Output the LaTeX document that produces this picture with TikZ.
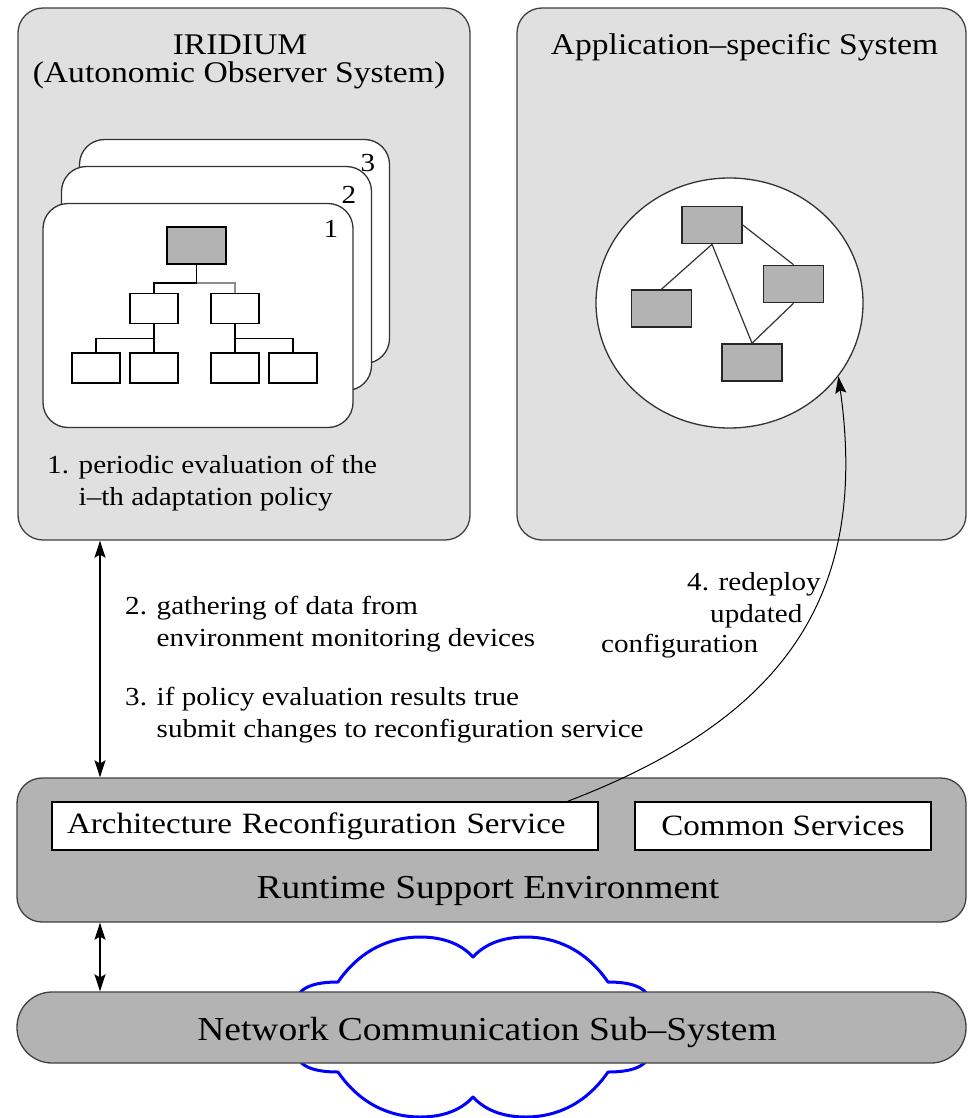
\documentclass[tikz,border=0pt]{standalone}
\usepackage{fontspec}
\setmainfont[FakeStretch=1.12]{Liberation Serif}
\usepackage{xcolor}
\usepackage{tikz}
\usetikzlibrary{shapes,arrows}
\usetikzlibrary{arrows.meta}
\definecolor{panelgray}{HTML}{E0E0E0}
\definecolor{layergray}{HTML}{B3B3B3}

\begin{document}
\begin{tikzpicture}[x=1pt, y=-1pt]
\tikzstyle{sysborder}=[line width=1.3pt, draw=black!75]
\tikzstyle{syspanel}=[sysborder, fill=panelgray, rounded corners=25pt]
\tikzstyle{layer}=[sysborder, fill=layergray, rounded corners=25pt]
\tikzstyle{policycard}=[line width=1.3pt, draw=black!80, fill=white, rounded corners=25pt, minimum width=310pt, minimum height=224pt]
\tikzstyle{leaf}=[line width=1.6pt, draw=black, fill=white, minimum width=48pt, minimum height=30pt, inner sep=0]
\tikzstyle{comp}=[line width=1.6pt, draw=black!85, fill=layergray, minimum width=60pt, minimum height=37pt, inner sep=0]
\tikzstyle{service}=[line width=1.6pt, draw=black, fill=white, minimum height=48pt, inner sep=0, font=\fontsize{29.5}{35}\selectfont]
\tikzstyle{title}=[anchor=base, inner sep=0, font=\fontsize{30}{36}\selectfont]
\tikzstyle{layername}=[anchor=base, inner sep=0, font=\fontsize{33.5}{40}\selectfont]
\tikzstyle{note}=[anchor=north west, align=left, inner sep=0, font=\fontsize{26}{32}\selectfont]
\tikzstyle{notebit}=[anchor=base west, inner sep=0, font=\fontsize{26}{32}\selectfont]
\tikzstyle{cardno}=[inner sep=0, font=\fontsize{26}{32}\selectfont]
\tikzstyle{bothways}=[line width=1.3pt, {Stealth[length=17pt,width=11pt,inset=3pt]}-{Stealth[length=17pt,width=11pt,inset=3pt]}]
\tikzstyle{redeploy}=[line width=1pt, -{Stealth[length=17pt,width=11pt,inset=3pt]}]
\tikzstyle{cloudline}=[line width=3pt, draw=blue, line join=round]

\useasboundingbox (0,0) rectangle (968,1118);

% Background 'containers'
\node[syspanel, minimum width=452pt, minimum height=532pt] (iridium) at (244,274) {};
\node[syspanel, minimum width=449pt, minimum height=532pt] (appsys) at (741.5,274) {};
\node[title] (iridium-name) at (240,55) {IRIDIUM};
\node[title] (iridium-sub) at (239,83) {(Autonomic Observer System)};
\node[title] (appsys-name) at (744.5,55) {Application--specific System};

% adaptation policies, stacked
\node[policycard] (card3) at (234.5,251.5) {};
\node[policycard] (card2) at (216.5,278.5) {};
\node[policycard] (card1) at (198,315.5) {};
\node[cardno] (no3) at (368,163) {3};
\node[cardno] (no2) at (349,195) {2};
\node[cardno] (no1) at (331,229) {1};

\node[leaf, fill=layergray, minimum width=59pt, minimum height=37pt] (root) at (196.5,245.5) {};
\node[leaf] (pol-a) at (154,308.5) {};
\node[leaf] (pol-b) at (235,308.5) {};
\node[leaf] (pol-a1) at (96,368) {};
\node[leaf] (pol-a2) at (154,368) {};
\node[leaf] (pol-b1) at (235,368) {};
\node[leaf] (pol-b2) at (293,368) {};

\draw[line width=1.6pt, black!45] (root.south) -- ++(0,18) -| (pol-b.north);
\draw[line width=1.6pt] (root.south) -- ++(0,18) -| (pol-a.north);
\draw[line width=1.6pt] (pol-a.south) -- ++(0,14) -| (pol-a1.north);
\draw[line width=1.6pt] (pol-a.south) -- (pol-a2.north);
\draw[line width=1.6pt] (pol-b.south) -- ++(0,14) -| (pol-b2.north);
\draw[line width=1.6pt] (pol-b.south) -- (pol-b1.north);

\node[note] (step1) at (47,455) {1. periodic evaluation of the\\\phantom{1. }i--th adaptation policy};

% running configuration
\node[ellipse, line width=1.3pt, draw=black!80, fill=white, minimum width=267pt, minimum height=250pt, inner sep=0] (config) at (729.5,303) {};
\node[comp] (comp-top) at (712,225) {};
\node[comp] (comp-left) at (661.5,308.5) {};
\node[comp] (comp-right) at (793.5,284) {};
\node[comp] (comp-low) at (752,362.5) {};
\draw[line width=1.2pt, black!80] (comp-top.south) -- (comp-left.north);
\draw[line width=1.2pt, black!80] (comp-top.south) -- (comp-low.north);
\draw[line width=1.2pt, black!80] (comp-top.east) -- (comp-right.north);
\draw[line width=1.2pt, black!80] (comp-right.south) -- (comp-low.north);

% support layers
\node[layer, minimum width=949pt, minimum height=144pt] (runtime) at (491.5,850) {};
\node[service, text width=516pt, inner xsep=15pt, align=left] (reconf) at (325,826) {Architecture Reconfiguration Service};
\node[service, minimum width=296pt] (common) at (783,826) {Common Services};
\node[layername] (runtime-name) at (488,898) {Runtime Support Environment};

\draw[cloudline] (296,1027) -- (296,1000)
  .. controls (300,985) and (320,982) .. (338,982)
  .. controls (360,950) and (390,937) .. (420,937)
  .. controls (445,937) and (462,945) .. (473,957)
  .. controls (484,945) and (501,937) .. (526,937)
  .. controls (556,937) and (586,950) .. (608,982)
  .. controls (626,982) and (646,985) .. (650,1000)
  -- (650,1054)
  .. controls (646,1069) and (626,1072) .. (608,1072)
  .. controls (586,1104) and (556,1117) .. (526,1117)
  .. controls (501,1117) and (484,1109) .. (473,1097)
  .. controls (462,1109) and (445,1117) .. (420,1117)
  .. controls (390,1117) and (360,1104) .. (338,1072)
  .. controls (320,1072) and (300,1069) .. (296,1054)
  -- cycle;
\node[layer, rounded corners=35pt, minimum width=949pt, minimum height=71pt] (network) at (491.5,1027.5) {};
\node[layername] (network-name) at (487,1040) {Network Communication Sub--System};

% interactions
\coordinate (bus) at (100,0);
\draw[bothways] (iridium.south -| bus) -- (runtime.north -| bus);
\draw[bothways] (runtime.south -| bus) -- (network.north -| bus);
\node[note] (step2) at (125,596) {2. gathering of data from\\\phantom{2. }environment monitoring devices};
\node[note] (step3) at (125,687) {3. if policy evaluation results true\\\phantom{3. }submit changes to reconfiguration service};

\draw[redeploy] ([xshift=-31pt]reconf.north east) .. controls (780,720) and (870,600) .. (config.-34);
\node[notebit] (step4a) at (687,590) {4. redeploy};
\node[notebit] (step4b) at (710,622) {updated};
\node[notebit] (step4c) at (601,652) {configuration};
\end{tikzpicture}
\end{document}
